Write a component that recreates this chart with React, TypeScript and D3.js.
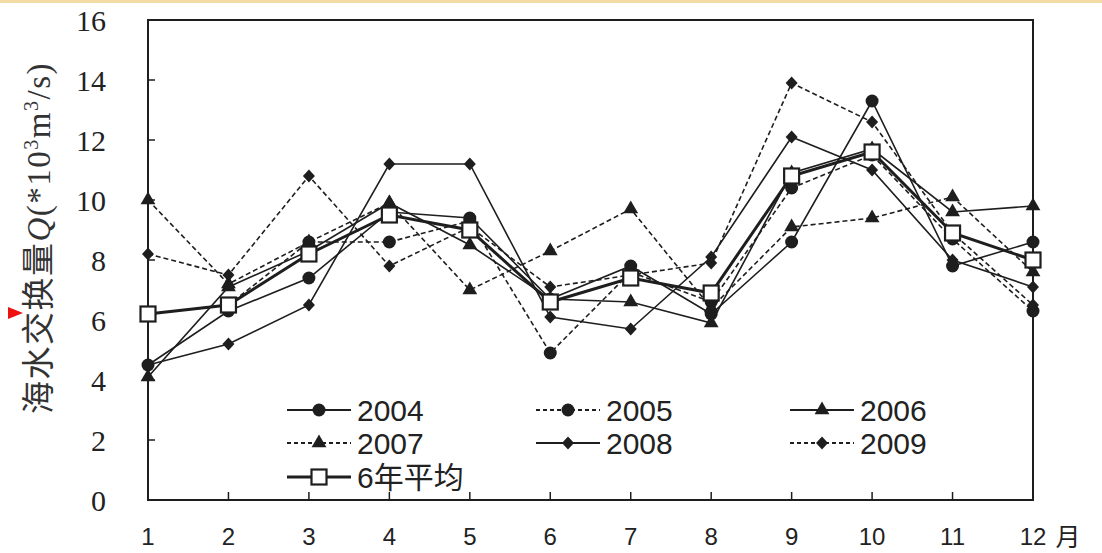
import * as d3 from "d3";

const months = [1, 2, 3, 4, 5, 6, 7, 8, 9, 10, 11, 12];
const yTicks = [0, 2, 4, 6, 8, 10, 12, 14, 16];

const s2004 = [4.5, 6.3, 7.4, 9.6, 9.4, 6.7, 7.8, 6.2, 8.6, 13.3, 7.8, 8.6];
const s2005 = [6.2, 6.5, 8.6, 8.6, 9.3, 4.9, 7.6, 6.6, 10.4, 11.5, 8.7, 6.3];
const s2006 = [4.1, 7.1, 8.3, 9.9, 8.5, 6.7, 6.6, 5.9, 10.9, 11.7, 9.6, 9.8];
const s2007 = [10.0, 7.2, 8.6, 9.9, 7.0, 8.3, 9.7, 6.4, 9.1, 9.4, 10.1, 7.6];
const s2008 = [4.5, 5.2, 6.5, 11.2, 11.2, 6.1, 5.7, 8.1, 12.1, 11.0, 8.0, 7.1];
const s2009 = [8.2, 7.5, 10.8, 7.8, 9.1, 7.1, 7.5, 7.9, 13.9, 12.6, 8.9, 6.5];
const sAvg = [6.2, 6.5, 8.2, 9.5, 9.0, 6.6, 7.4, 6.9, 10.8, 11.6, 8.9, 8.0];

type Mark = "circle" | "triangle" | "diamond" | "square";

const series: { name: string; values: number[]; dashed: boolean; mark: Mark }[] = [
  { name: "2004", values: s2004, dashed: false, mark: "circle" },
  { name: "2005", values: s2005, dashed: true, mark: "circle" },
  { name: "2006", values: s2006, dashed: false, mark: "triangle" },
  { name: "2007", values: s2007, dashed: true, mark: "triangle" },
  { name: "2008", values: s2008, dashed: false, mark: "diamond" },
  { name: "2009", values: s2009, dashed: true, mark: "diamond" },
];

const INK = "#1e1e1e";
const W = 1102;
const H = 553;
const PLOT = { left: 148, right: 1033, top: 20, bottom: 500 };

const Marker = ({ kind, x, y }: { kind: Mark; x: number; y: number }) => {
  if (kind === "circle") return <circle cx={x} cy={y} r={6.5} fill={INK} />;
  if (kind === "square")
    return (
      <rect x={x - 7.5} y={y - 7.5} width={15} height={15} fill="#fff" stroke={INK} strokeWidth={2.2} />
    );
  if (kind === "diamond")
    return <path d="M0,-6.5L6,0L0,6.5L-6,0Z" transform={`translate(${x},${y})`} fill={INK} />;
  const path = d3.symbol().type(d3.symbolTriangle).size(95)();
  return <path d={path ?? undefined} transform={`translate(${x},${y})`} fill={INK} />;
};

export default function App() {
  const x = d3.scaleLinear().domain([1, 12]).range([PLOT.left, PLOT.right]);
  const y = d3.scaleLinear().domain([0, 16]).range([PLOT.bottom, PLOT.top]);

  const line = d3
    .line<number>()
    .x((_, i) => x(months[i]))
    .y((v) => y(v));

  const legendRows = [
    { name: "2004", dashed: false, mark: "circle" as Mark, col: 0, row: 0 },
    { name: "2005", dashed: true, mark: "circle" as Mark, col: 1, row: 0 },
    { name: "2006", dashed: false, mark: "triangle" as Mark, col: 2, row: 0 },
    { name: "2007", dashed: true, mark: "triangle" as Mark, col: 0, row: 1 },
    { name: "2008", dashed: false, mark: "diamond" as Mark, col: 1, row: 1 },
    { name: "2009", dashed: true, mark: "diamond" as Mark, col: 2, row: 1 },
  ];
  const colX = [287, 536, 790];
  const rowY = [410, 443, 477];
  const serif = "'Liberation Serif', 'DejaVu Serif', serif";

  return (
    <svg
      width={W}
      height={H}
      style={{ position: "absolute", left: 0, top: 0, background: "#fff" }}
    >
      <rect x={0} y={0} width={W} height={3} fill="#f3dca6" />
      <path d="M8,307 L23,313 L8,319 Z" fill="#ee1111" />

      {/* frame */}
      <rect
        x={PLOT.left}
        y={PLOT.top}
        width={PLOT.right - PLOT.left}
        height={PLOT.bottom - PLOT.top}
        fill="none"
        stroke={INK}
        strokeWidth={2}
      />

      {/* y ticks */}
      {yTicks.map((t) => (
        <g key={t}>
          <line x1={PLOT.left} x2={PLOT.left + 7} y1={y(t)} y2={y(t)} stroke={INK} strokeWidth={1.5} />
          <text
            x={106}
            y={y(t)}
            dy="0.35em"
            textAnchor="end"
            fontFamily={serif}
            fontSize={30}
            fill="#222"
          >
            {t}
          </text>
        </g>
      ))}

      {/* x ticks */}
      {months.map((m) => (
        <g key={m}>
          {m > 1 && m < 12 && (
            <line x1={x(m)} x2={x(m)} y1={PLOT.bottom} y2={PLOT.bottom - 8} stroke={INK} strokeWidth={1.5} />
          )}
          <text
            x={x(m)}
            y={537}
            dy="0.35em"
            textAnchor="middle"
            fontFamily="'Liberation Sans Narrow', 'Liberation Sans', sans-serif"
            fontSize={24}
            fill="#222"
          >
            {m}
          </text>
        </g>
      ))}
      <text
        x={1068}
        y={537}
        dy="0.35em"
        textAnchor="middle"
        fontFamily="'Noto Sans CJK SC', sans-serif"
        fontSize={25}
        fill="#222"
      >
        月
      </text>

      {/* y label */}
      <text
        transform="translate(50,238) rotate(-90)"
        textAnchor="middle"
        fontFamily="'Noto Sans CJK SC', serif"
        fontSize={33}
        letterSpacing={1.5}
        fill="#333"
      >
        海水交换量
        <tspan fontFamily={serif} fontStyle="italic">Q</tspan>
        <tspan fontFamily={serif}>(*10</tspan>
        <tspan fontFamily={serif} fontSize={20} dy={-12}>3</tspan>
        <tspan fontFamily={serif} dy={12}>m</tspan>
        <tspan fontFamily={serif} fontSize={20} dy={-12}>3</tspan>
        <tspan fontFamily={serif} dy={12}>/s)</tspan>
      </text>

      {/* series */}
      {series.map((s) => (
        <g key={s.name}>
          <path
            d={line(s.values) ?? undefined}
            fill="none"
            stroke={INK}
            strokeWidth={1.6}
            strokeDasharray={s.dashed ? "5,3" : undefined}
          />
          {s.values.map((v, i) => (
            <Marker key={i} kind={s.mark} x={x(months[i])} y={y(v)} />
          ))}
        </g>
      ))}
      <g>
        <path d={line(sAvg) ?? undefined} fill="none" stroke={INK} strokeWidth={3} />
        {sAvg.map((v, i) => (
          <Marker key={i} kind="square" x={x(months[i])} y={y(v)} />
        ))}
      </g>

      {/* legend */}
      {legendRows.map((r) => {
        const lx = colX[r.col];
        const ly = rowY[r.row];
        return (
          <g key={r.name}>
            <line
              x1={lx}
              x2={lx + 64}
              y1={ly}
              y2={ly}
              stroke={INK}
              strokeWidth={1.8}
              strokeDasharray={r.dashed ? "4,3" : undefined}
            />
            <Marker kind={r.mark} x={lx + 32} y={ly} />
            <text
              x={lx + 70}
              y={ly}
              dy="0.36em"
              fontFamily="'Liberation Sans', Arial, sans-serif"
              fontSize={30}
              fill="#222"
            >
              {r.name}
            </text>
          </g>
        );
      })}
      <g>
        <line x1={colX[0]} x2={colX[0] + 64} y1={rowY[2]} y2={rowY[2]} stroke={INK} strokeWidth={3} />
        <Marker kind="square" x={colX[0] + 32} y={rowY[2]} />
        <text
          x={colX[0] + 70}
          y={rowY[2]}
          dy="0.36em"
          fontFamily="'Liberation Sans', 'Noto Sans CJK SC', sans-serif"
          fontSize={30}
          fill="#222"
        >
          6年平均
        </text>
      </g>
    </svg>
  );
}
